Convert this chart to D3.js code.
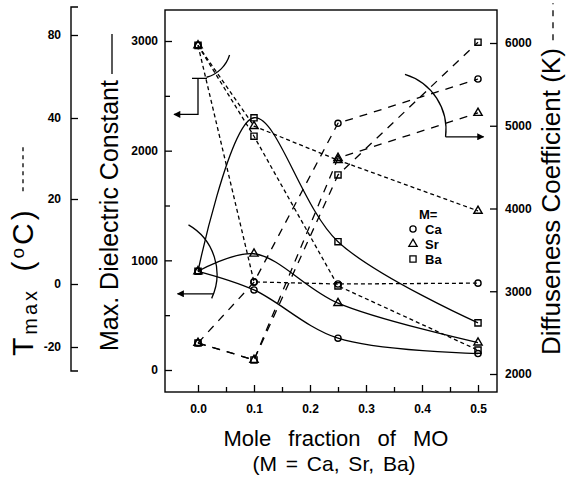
<!DOCTYPE html>
<html><head><meta charset="utf-8">
<script src="https://cdn.jsdelivr.net/npm/d3@7"></script>
<style>body{margin:0;background:#fff}svg{display:block}</style>
</head><body><svg id="c" width="567" height="482"></svg>
<script>
// ---- data ----
const moleFraction = [0, 0.1, 0.25, 0.5];
const dielCa = [900, 730, 290, 150];
const dielSr = [900, 1060, 610, 250];
const dielBa = [900, 2300, 1170, 430];
const tmaxCa = [75, 0.5, 0, 0.2];
const tmaxSr = [75, 38, 29.6, 17.2];
const tmaxBa = [75, 35.5, -0.6, -21];
const diffCa = [2375, 3110, 5030, 5565];
const diffSr = [2375, 2170, 4610, 5155];
const diffBa = [2375, 2170, 4405, 6010];
const elements = ["Ca", "Sr", "Ba"];
const xTicks = [0, 0.1, 0.2, 0.3, 0.4, 0.5];
const xMinor = [0.05, 0.15, 0.25, 0.35, 0.45];
const dielTicks = [0, 1000, 2000, 3000];
const dielMinor = [500, 1500, 2500];
const tmaxTicks = [-20, 0, 20, 40, 80];
const diffTicks = [2000, 3000, 4000, 5000, 6000];

const FONT = "'Liberation Sans', Arial, Helvetica, sans-serif";
const svg = d3.select("#c").style("font-family", FONT);
const frame = {l: 165, r: 497, t: 10, b: 392};

const x = d3.scaleLinear().domain([0, 0.5]).range([198, 478]);
const yD = d3.scaleLinear().domain([0, 3000]).range([370, 41]);
const yT = d3.scaleLinear().domain([-20, 0, 20, 40, 80]).range([347, 284, 199, 118, 35]);
const yR = d3.scaleLinear().domain([2000, 6000]).range([374, 43]);

const symbols = {Ca: d3.symbol(d3.symbolCircle, 30), Sr: d3.symbol(d3.symbolTriangle, 30), Ba: d3.symbol(d3.symbolSquare, 38)};

function styleAxis(g) {
  g.select(".domain").remove();
  g.selectAll("line").attr("stroke", "#000").attr("stroke-width", 1.3);
  g.selectAll("text").attr("fill", "#000").style("font-family", FONT).style("font-size", "12px").style("font-weight", "bold");
}

// frame
svg.append("rect").attr("x", frame.l).attr("y", frame.t).attr("width", frame.r - frame.l).attr("height", frame.b - frame.t)
  .attr("fill", "none").attr("stroke", "#000").attr("stroke-width", 1.4);

// left inner axis (dielectric)
svg.append("g").attr("transform", `translate(${frame.l},0)`)
  .call(d3.axisLeft(yD).tickValues(dielTicks).tickSizeInner(-7).tickSizeOuter(0).tickPadding(7).tickFormat(d => d)).call(styleAxis);
svg.append("g").attr("transform", `translate(${frame.l},0)`)
  .call(d3.axisLeft(yD).tickValues(dielMinor).tickSizeInner(-5).tickSizeOuter(0).tickFormat("")).call(styleAxis);

// far-left Tmax axis
svg.append("path").attr("d", "M78,7H71V371H78").attr("fill", "none").attr("stroke", "#000").attr("stroke-width", 1.4);
svg.append("g").attr("transform", "translate(71,0)")
  .call(d3.axisLeft(yT).tickValues(tmaxTicks).tickSizeInner(-7).tickSizeOuter(0).tickPadding(10).tickFormat(d => String(d))).call(styleAxis);

// right axis
svg.append("g").attr("transform", `translate(${frame.r},0)`)
  .call(d3.axisRight(yR).tickValues(diffTicks).tickSizeInner(-7).tickSizeOuter(0).tickPadding(8).tickFormat(d => d)).call(styleAxis);

// bottom axis
svg.append("g").attr("transform", `translate(0,${frame.b})`)
  .call(d3.axisBottom(x).tickValues(xTicks).tickSizeInner(-7).tickSizeOuter(0).tickPadding(12).tickFormat(d3.format(".1f"))).call(styleAxis);
svg.append("g").attr("transform", `translate(0,${frame.b})`)
  .call(d3.axisBottom(x).tickValues(xMinor).tickSizeInner(-5).tickSizeOuter(0).tickFormat("")).call(styleAxis);

// series
const groups = [
  {vals: [dielCa, dielSr, dielBa], y: yD, dash: null, curve: d3.curveCatmullRom.alpha(0.5)},
  {vals: [tmaxCa, tmaxSr, tmaxBa], y: yT, dash: "4,3", curve: d3.curveLinear},
  {vals: [diffCa, diffSr, diffBa], y: yR, dash: "8,7", curve: d3.curveLinear}
];
groups.forEach(g => {
  g.vals.forEach((arr, i) => {
    const pts = moleFraction.map((m, k) => ({m, v: arr[k]})).filter(p => p.v != null);
    svg.append("path").datum(pts)
      .attr("d", d3.line().x(p => x(p.m)).y(p => g.y(p.v)).curve(g.curve))
      .attr("fill", "none").attr("stroke", "#000").attr("stroke-width", 1.3)
      .attr("stroke-dasharray", g.dash);
  });
});
groups.forEach(g => {
  g.vals.forEach((arr, i) => {
    const pts = moleFraction.map((m, k) => ({m, v: arr[k]})).filter(p => p.v != null);
    svg.selectAll(null).data(pts).enter().append("path")
      .attr("d", symbols[elements[i]])
      .attr("transform", p => `translate(${x(p.m)},${g.y(p.v)})`)
      .attr("fill", "none").attr("stroke", "#000").attr("stroke-width", 1.4);
  });
});

// annotations: arcs + arrows
svg.append("defs").append("marker").attr("id", "ah").attr("viewBox", "0 0 10 10").attr("refX", 9).attr("refY", 5)
  .attr("markerWidth", 9).attr("markerHeight", 7).attr("markerUnits", "userSpaceOnUse").attr("orient", "auto")
  .append("path").attr("d", "M0,0L10,5L0,10Z").attr("fill", "#000");
function arcPath(cx, cy, r, a0, a1) {
  const p = d3.path();
  p.arc(cx, cy, r, a0 * Math.PI / 180, a1 * Math.PI / 180, a1 < a0);
  return p.toString();
}
const ann = svg.append("g").attr("fill", "none").attr("stroke", "#000").attr("stroke-width", 1.3);
{
  const cx = x(0), cy = yT(75);
  ann.append("path").attr("d", arcPath(cx, cy, 33, 17, 75));
  ann.append("path").attr("d", `M${cx - 6},${cy + 33}H${cx + 9}`);
  ann.append("path").attr("d", `M${cx},${cy + 33}V${cy + 69}H${cx - 24}`).attr("marker-end", "url(#ah)");
}
{
  const cx = x(0) - 38, cy = yD(900) + 3, r = 57;
  ann.append("path").attr("d", arcPath(cx, cy, r, -60, 25));
  const a = 20 * Math.PI / 180;
  const sx = cx + r * Math.cos(a), sy = cy + r * Math.sin(a);
  ann.append("path").attr("d", `M${sx},${sy}H${sx - 36}`).attr("marker-end", "url(#ah)");
}
{
  const cx = x(0.4) - 34, cy = yR(5000) + 4, r = 58;
  ann.append("path").attr("d", arcPath(cx, cy, r, -73, 7));
  const a = 7 * Math.PI / 180;
  const sx = cx + r * Math.cos(a), sy = cy + r * Math.sin(a);
  ann.append("path").attr("d", `M${sx},${sy}H${sx + 38}`).attr("marker-end", "url(#ah)");
}

// legend
const leg = svg.append("g").style("font-size", "13px").style("font-weight", "bold");
leg.append("text").attr("x", 419).attr("y", 219).text("M=");
elements.forEach((e, i) => {
  const yy = 229 + i * 15;
  leg.append("path").attr("d", symbols[e]).attr("transform", `translate(413,${yy})`).attr("fill", "none").attr("stroke", "#000").attr("stroke-width", 1.3);
  leg.append("text").attr("x", 425).attr("y", yy + 5).text(e);
});

// axis titles
const t1 = svg.append("text").attr("transform", "translate(33,356) rotate(-90)").style("font-size", "30px")
  .style("letter-spacing", "3px").style("word-spacing", "5px");
t1.append("tspan").text("T");
t1.append("tspan").attr("dy", 4).style("font-size", "20px").text("max");
t1.append("tspan").attr("dy", -4).text(" (");
t1.append("tspan").attr("dy", -9).style("font-size", "19px").text("o");
t1.append("tspan").attr("dy", 9).text("C)");
{
  const len = t1.node().getComputedTextLength();
  svg.append("line").attr("x1", 23).attr("x2", 23).attr("y1", 356 - len - 16).attr("y2", 356 - len - 62)
    .attr("stroke", "#000").attr("stroke-width", 1.3).attr("stroke-dasharray", "4,4");
}
const t2 = svg.append("text").attr("transform", "translate(118,351) rotate(-90)").style("font-size", "25px").text("Max. Dielectric Constant");
{
  const len = t2.node().getComputedTextLength();
  svg.append("line").attr("x1", 112).attr("x2", 112).attr("y1", 351 - len - 6).attr("y2", 351 - len - 46)
    .attr("stroke", "#000").attr("stroke-width", 1.3);
}
const t3 = svg.append("text").attr("transform", "translate(560,355) rotate(-90)").style("font-size", "26px").text("Diffuseness Coefficient (K)");
{
  const len = t3.node().getComputedTextLength();
  svg.append("line").attr("x1", 553).attr("x2", 553).attr("y1", 355 - len - 8).attr("y2", Math.max(2, 355 - len - 45))
    .attr("stroke", "#000").attr("stroke-width", 1.3).attr("stroke-dasharray", "6,6");
}
svg.append("text").attr("x", 336).attr("y", 446).attr("text-anchor", "middle").style("font-size", "22px").style("word-spacing", "11px").text("Mole fraction of MO");
svg.append("text").attr("x", 334).attr("y", 471).attr("text-anchor", "middle").style("font-size", "21px").style("word-spacing", "3px").text("(M = Ca, Sr, Ba)");
</script></body></html>
